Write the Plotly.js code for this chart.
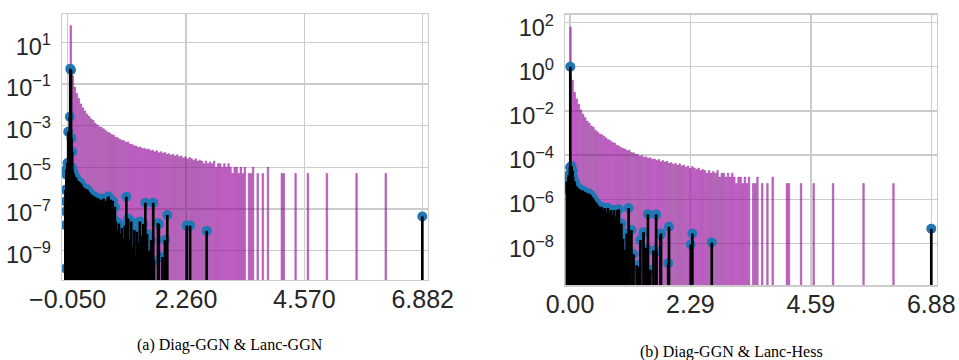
<!DOCTYPE html>
<html>
<head>
<meta charset="utf-8">
<script src="https://cdn.plot.ly/plotly-3.0.1.min.js"></script>
<style>html,body{margin:0;padding:0;background:#fff;}#chart{width:959px;height:360px;}</style>
</head>
<body>
<div id="chart"></div>
<script>
// Diag-GGN histogram (bin centers and density), shared by both panels
const histX = [0.01,0.05,0.09,0.13,0.17,0.21,0.25,0.29,0.33,0.37,0.41,0.45,0.49,0.53,0.57,0.61,0.65,0.69,0.73,0.77,0.81,0.85,0.89,0.93,0.97,1.01,1.05,1.09,1.13,1.17,1.21,1.25,1.29,1.33,1.37,1.41,1.45,1.49,1.53,1.57,1.61,1.65,1.69,1.73,1.77,1.81,1.85,1.89,1.93,1.97,2.01,2.05,2.09,2.13,2.17,2.21,2.25,2.29,2.33,2.37,2.41,2.45,2.49,2.53,2.57,2.61,2.65,2.69,2.73,2.77,2.81,2.85,2.89,2.93,2.97,3.01,3.05,3.09,3.13,3.17,3.21,3.25,3.29,3.33,3.37,3.41,3.49,3.53,3.57,3.66,3.76,3.86,4.13,4.17,4.40,4.64,5.01,5.59,6.16];
const histY = [63,0.25,0.071,0.035,0.02,0.011,7.1e-3,5.0e-3,3.5e-3,2.8e-3,2.1e-3,1.8e-3,1.3e-3,1.1e-3,8.9e-4,8.3e-4,7.1e-4,6.0e-4,5.0e-4,4.5e-4,3.8e-4,3.5e-4,2.8e-4,2.6e-4,2.2e-4,2.0e-4,1.9e-4,1.6e-4,1.66e-4,1.3e-4,1.26e-4,1.1e-4,1.05e-4,8.9e-5,9.5e-5,7.9e-5,8.3e-5,7.1e-5,7.6e-5,6.3e-5,6.6e-5,5.6e-5,6.3e-5,5.0e-5,5.6e-5,4.8e-5,5.2e-5,4.2e-5,4.5e-5,3.8e-5,4.2e-5,3.5e-5,4.0e-5,3.2e-5,3.5e-5,2.8e-5,3.2e-5,2.5e-5,3.0e-5,2.6e-5,2.2e-5,2.6e-5,2.0e-5,2.2e-5,2.0e-5,1.5e-5,2.0e-5,1.5e-5,1.8e-5,1.5e-5,2.0e-5,1.0e-5,1.5e-5,1.5e-5,1.0e-5,1.5e-5,1.0e-5,1.5e-5,1.0e-5,5.1e-6,1.0e-5,1.0e-5,5.1e-6,1.0e-5,5.1e-6,1.0e-5,5.1e-6,5.1e-6,1.0e-5,5.1e-6,5.1e-6,1.0e-5,5.1e-6,5.1e-6,5.1e-6,5.1e-6,5.1e-6,5.1e-6,5.1e-6];

// Lanczos (GGN) eigenvalues and weights - panel (a)
const lancGGNx = [-0.093,-0.093,-0.093,-0.093,-0.093,-0.073,-0.054,-0.04,-0.008,0.024,0.038,0.0,0.015,
 -0.075,-0.05,-0.025,0.03,0.05,0.07,0.09,0.11,0.13,0.15,0.17,0.19,0.21,0.23,0.25,0.27,0.29,0.31,0.33,0.35,0.37,0.39,0.41,0.43,0.45,0.47,0.49,0.51,0.53,0.55,0.57,0.59,0.61,0.63,0.65,0.67,0.69,0.71,0.73,0.75,0.77,0.79,0.81,0.83,0.85,0.87,0.89,
 0.92,0.95,0.98,1.01,1.04,1.07,
 1.095,1.13,1.16,1.19,1.22,1.25,1.266,1.30,1.33,1.36,1.39,1.426,1.466,1.50,1.54,1.58,1.62,1.635,1.713,1.73,1.80,1.85,1.895,2.274,2.34,2.664,6.874];
const lancGGNy = [8.3e-7,2.3e-7,7.6e-8,1.7e-8,1.4e-10,4.4e-6,1.6e-5,5.1e-4,2.7e-3,2.5e-4,5.6e-5,0.54,0.47,
 7.9e-6,1e-5,1.1e-5,1e-5,7.1e-6,5e-6,3.5e-6,3.2e-6,2.5e-6,2.2e-6,2e-6,1.8e-6,1.6e-6,1.26e-6,1.1e-6,1e-6,8.9e-7,7.9e-7,8.9e-7,7.1e-7,6.3e-7,5e-7,5e-7,4.5e-7,3.2e-7,4e-7,2.8e-7,3.5e-7,2.5e-7,3.2e-7,2e-7,2.8e-7,1.4e-7,2.5e-7,3.2e-7,1.26e-7,2.5e-7,7.9e-8,3.5e-7,4e-7,1.6e-7,2.8e-7,6.3e-8,2.5e-7,3.2e-8,1.26e-7,2.5e-8,
 1e-8,2e-8,6.3e-9,1.26e-8,4e-9,1.6e-8,
 3.9e-7,3.5e-8,3.2e-9,2.5e-8,1.6e-9,1e-8,5.1e-10,8.1e-9,2.5e-9,2.5e-8,5e-9,1.9e-8,2e-7,6.3e-9,1e-9,3.2e-9,2e-7,3.4e-10,2.1e-8,1.9e-8,5e-10,3.3e-9,5.2e-8,1.6e-8,1.6e-8,8.9e-9,4.4e-8];

// Lanczos (Hessian) eigenvalues and weights - panel (b)
const lancHessX = [-0.04,-0.03,-0.02,0.0,0.03,0.05,0.06,0.006,
 -0.06,-0.03,0.03,0.09,0.12,0.15,0.18,0.21,0.24,0.27,0.30,0.33,0.36,0.39,0.42,0.45,0.48,0.51,0.54,0.57,0.60,0.63,0.66,0.69,0.72,0.75,0.78,0.81,0.84,0.87,0.90,0.93,0.96,0.98,
 1.01,1.04,1.08,1.117,1.17,1.21,1.27,1.31,1.34,1.40,1.44,1.485,1.53,1.59,1.64,1.645,1.72,1.733,1.87,1.885,2.30,2.33,2.70,6.88];
const lancHessY = [2.8e-6,5e-6,1.26e-5,2.8e-5,3.2e-5,2e-5,1e-5,1.0,
 6.3e-6,1e-5,1.6e-5,6.3e-6,4e-6,3.2e-6,2.8e-6,2.5e-6,2.5e-6,2.2e-6,2e-6,1.8e-6,1.8e-6,1.6e-6,1.26e-6,1e-6,7.9e-7,6.3e-7,5e-7,4e-7,4.5e-7,3.2e-7,4e-7,2.5e-7,4e-7,2.8e-7,3.2e-7,2e-7,3.2e-7,1.6e-7,3.2e-7,3.5e-7,6.3e-8,7.9e-8,
 1.6e-8,5e-9,2.8e-8,4e-7,4e-8,3.2e-9,1e-9,8.7e-10,1.4e-8,3.2e-8,6.3e-9,2.1e-7,6.3e-10,4.7e-9,2e-7,4.2e-9,2.4e-8,2.8e-8,1.26e-9,5.6e-8,8.9e-9,2.8e-8,1.1e-8,4.6e-8];

const tickValsA = [-0.05, 2.2607, 4.5713, 6.882];
const tickTextA = ['\u22120.050', '2.260', '4.570', '6.882'];
const tickValsB = [0, 2.2933, 4.5867, 6.88];
const tickTextB = ['0.00', '2.29', '4.59', '6.88'];
const yTickValsA = [10, 0.1, 1e-3, 1e-5, 1e-7, 1e-9];
const yTickTextA = ['10<sup>1</sup>', '10<sup>\u22121</sup>', '10<sup>\u22123</sup>', '10<sup>\u22125</sup>', '10<sup>\u22127</sup>', '10<sup>\u22129</sup>'];
const yTickValsB = [100, 1, 1e-2, 1e-4, 1e-6, 1e-8];
const yTickTextB = ['10<sup>2</sup>', '10<sup>0</sup>', '10<sup>\u22122</sup>', '10<sup>\u22124</sup>', '10<sup>\u22126</sup>', '10<sup>\u22128</sup>'];
const captions = ['(a) Diag-GGN &amp; Lanc-GGN', '(b) Diag-GGN &amp; Lanc-Hess'];

const STEM_FLOOR = 1e-14;
function stems(xs, ys) {
  const sx = [], sy = [];
  for (let i = 0; i < xs.length; i++) { sx.push(xs[i], xs[i], null); sy.push(STEM_FLOOR, ys[i], null); }
  return {x: sx, y: sy};
}
const sA = stems(lancGGNx, lancGGNy);
const sB = stems(lancHessX, lancHessY);

const histStyle = {type: 'bar', width: 0.03,
  marker: {color: 'rgba(165,15,170,0.6)', line: {color: 'rgba(120,0,130,0.6)', width: 0.6}}, hoverinfo: 'skip'};
const markStyle = {type: 'scatter', mode: 'markers', marker: {size: 10, color: '#1f77b4'}, hoverinfo: 'skip'};
const stemStyle = {type: 'scatter', mode: 'lines', line: {color: '#000000', width: 2.7}, connectgaps: false, hoverinfo: 'skip'};

const data = [
  Object.assign({x: histX, y: histY, xaxis: 'x', yaxis: 'y'}, histStyle),
  Object.assign({x: histX, y: histY, xaxis: 'x2', yaxis: 'y2'}, histStyle),
  Object.assign({x: lancGGNx, y: lancGGNy, xaxis: 'x', yaxis: 'y'}, markStyle),
  Object.assign({x: sA.x, y: sA.y, xaxis: 'x', yaxis: 'y'}, stemStyle),
  Object.assign({x: lancHessX, y: lancHessY, xaxis: 'x2', yaxis: 'y2'}, markStyle),
  Object.assign({x: sB.x, y: sB.y, xaxis: 'x2', yaxis: 'y2'}, stemStyle)
];

const W = 959, H = 360;
function axisBase(fontSize) {
  return {showline: true, mirror: true, linecolor: '#cccccc', linewidth: 1.3,
    showgrid: true, gridcolor: '#cccccc', gridwidth: 1.3, zeroline: false, ticks: '',
    ticklabeloverflow: 'allow',
    tickmode: 'array', tickfont: {family: 'Liberation Sans, Arial, sans-serif', size: fontSize, color: '#262626'}};
}
const layout = {
  width: W, height: H, margin: {l: 0, r: 0, t: 0, b: 0},
  paper_bgcolor: '#ffffff', plot_bgcolor: '#ffffff', showlegend: false,
  barmode: 'overlay', bargap: 0,
  xaxis: Object.assign(axisBase(25), {domain: [62/W, 428/W], range: [-0.161, 6.985], tickvals: tickValsA, ticktext: tickTextA, anchor: 'y', ticklabelstandoff: -3}),
  yaxis: Object.assign(axisBase(23.5), {domain: [(H-280)/H, (H-14)/H], type: 'log', range: [-10.406, 2.358], tickvals: yTickValsA, ticktext: yTickTextA, anchor: 'x', ticklabelstandoff: 5, ticklabelshift: 4}),
  xaxis2: Object.assign(axisBase(25), {domain: [565/W, 936.7/W], range: [-0.095, 6.983], tickvals: tickValsB, ticktext: tickTextB, anchor: 'y2', ticklabelstandoff: -4}),
  yaxis2: Object.assign(axisBase(23.5), {domain: [(H-285.3)/H, (H-14.7)/H], type: 'log', range: [-9.904, 2.363], tickvals: yTickValsB, ticktext: yTickTextB, anchor: 'x2', ticklabelstandoff: 5, ticklabelshift: 5}),
  annotations: [
    {text: captions[0], xref: 'paper', yref: 'paper', x: 230/W, y: 1 - 345/H, xanchor: 'center', yanchor: 'middle', showarrow: false,
     font: {family: 'Liberation Serif, Times New Roman, serif', size: 16, color: '#000000'}},
    {text: captions[1], xref: 'paper', yref: 'paper', x: 731/W, y: 1 - 352/H, xanchor: 'center', yanchor: 'middle', showarrow: false,
     font: {family: 'Liberation Serif, Times New Roman, serif', size: 16, color: '#000000'}}
  ]
};
Plotly.newPlot('chart', data, layout, {staticPlot: true, displayModeBar: false});
</script>
</body>
</html>
